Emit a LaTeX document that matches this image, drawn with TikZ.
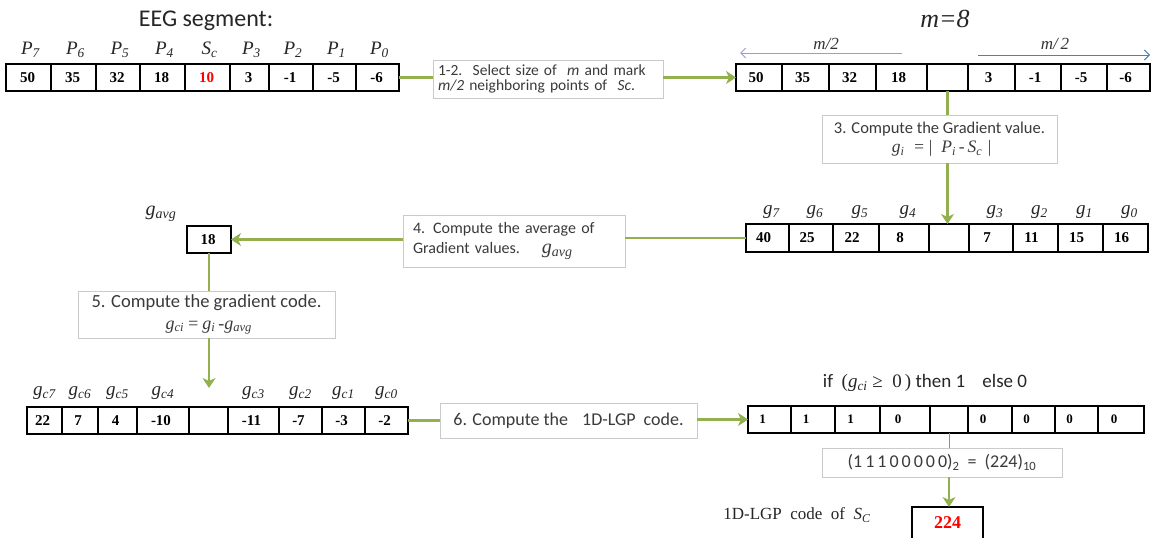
\documentclass[tikz,border=0pt]{standalone}
\usepackage{fontspec}
\setmainfont{Liberation Serif}
\newfontfamily\stepfont{Carlito}
\usetikzlibrary{arrows.meta,shadows}

\definecolor{arrowgreen}{HTML}{93B04F}
\definecolor{stepgray}{HTML}{CACACA}
\definecolor{steptext}{HTML}{3A3A3A}
\definecolor{halfleft}{HTML}{9C9CD0}
\definecolor{halfright}{HTML}{4F7FB5}

\newcommand\sub[1]{\textsubscript{#1}}
\newcommand\fsz[1]{\fontsize{#1}{#1}\selectfont}

\tikzset{
  cellbox/.style={draw=black, line width=1.3pt, inner sep=0pt, outer sep=0pt},
  numtext/.style={font=\fsz{15}\bfseries, inner sep=0pt},
  idxlabel/.style={font=\fsz{19}\itshape, inner sep=0pt, text=black!85},
  stepbox/.style={draw=stepgray, line width=0.8pt, fill=white, inner sep=0pt,
    outer sep=0pt, text=steptext, font=\stepfont\fsz{16},
    drop shadow={opacity=0.15, shadow xshift=1.2pt, shadow yshift=-1.2pt}},
  flowline/.style={draw=arrowgreen, line width=2.6pt},
  flowarrow/.style={flowline, -{Stealth[length=10pt,width=13pt,inset=3pt]}},
  halfarrow/.style={line width=0.9pt, -{Straight Barb[length=5pt,width=10pt]}},
}

% one row of value cells: name, top, height, text shift, list of index/left/right/value
\newcommand\cellrow[5]{%
  \foreach \ci/\xa/\xb/\val in {#5}{%
    \pgfmathsetmacro\cw{\xb-\xa}%
    \node[cellbox, minimum width=\cw pt, minimum height=#3pt, anchor=north west] (#1\ci) at (\xa,#2) {};%
    \node[numtext] (#1t\ci) at ([xshift=#4pt]#1\ci.center) {\val};%
  }%
}

\begin{document}
\begin{tikzpicture}[x=1pt,y=-1pt]
\useasboundingbox (0,0) rectangle (1152,538);
\fill[white] (0,0) rectangle (1152,538);

% headings
\node[font=\stepfont\fsz{24}, text=black!85] (eegtitle) at (206,21) {EEG segment:};
\node[font=\fsz{26}\itshape, text=black!85] (mtitle) at (945,19) {m=8};

% value rows
\cellrow{a}{64}{27}{-1}{1/6/51/50, 2/51/96/35, 3/96/140/32, 4/140/185/18, 5/185/230/\textcolor{red}{10}, 6/230/269/3, 7/269/313/-1, 8/313/356/-5, 9/356/399/-6}
\cellrow{b}{64}{27}{-3}{1/736/782/50, 2/782/829/35, 3/829/876/32, 4/876/927/18, 5/927/968/{}, 6/968/1015/3, 7/1015/1061/-1, 8/1061/1107/-5, 9/1107/1150/-6}
\cellrow{c}{224}{28}{-4}{1/746/789/40, 2/789/833/25, 3/833/879/22, 4/879/929/8, 5/929/969/{}, 6/969/1013/7, 7/1013/1058/11, 8/1058/1103/15, 9/1103/1148/16}
\cellrow{d}{407}{27}{-2}{1/27/62/22, 2/62/98/7, 3/98/137/4, 4/137/189/-10, 5/189/228/{}, 6/228/279/-11, 7/279/322/-7, 8/322/365/-3, 9/365/408/-2}
\begin{scope}[numtext/.append style={font=\fsz{13}\bfseries}]
\cellrow{e}{406}{27}{-7}{1/748/791/1, 2/791/835/1, 3/835/880/1, 4/880/930/0, 5/930/968/{}, 6/968/1012/0, 7/1012/1055/0, 8/1055/1098/0, 9/1098/1144/0}
\end{scope}

% index labels above the rows
\foreach \ci/\txt in {1/P\sub{7}, 2/P\sub{6}, 3/P\sub{5}, 4/P\sub{4}, 5/S\sub{c}, 6/P\sub{3}, 7/P\sub{2}, 8/P\sub{1}, 9/P\sub{0}}
  {\node[idxlabel] (aL\ci) at ([xshift=2pt,yshift=14pt]a\ci.north) {\txt};}
\foreach \ci/\txt in {1/g\sub{7}, 2/g\sub{6}, 3/g\sub{5}, 4/g\sub{4}, 6/g\sub{3}, 7/g\sub{2}, 8/g\sub{1}, 9/g\sub{0}}
  {\node[idxlabel] (cL\ci) at ([xshift=4pt,yshift=12pt]c\ci.north) {\txt};}
\foreach \ci/\txt in {1/g\sub{c7}, 2/g\sub{c6}, 3/g\sub{c5}, 4/g\sub{c4}, 6/g\sub{c3}, 7/g\sub{c2}, 8/g\sub{c1}, 9/g\sub{c0}}
  {\node[idxlabel] (dL\ci) at ([yshift=14pt]d\ci.north) {\txt};}

% half-window arrows
\node[font=\fsz{17}\itshape, text=black!80] (mhalfL) at (826,44) {m/2};
\node[font=\fsz{17}\itshape, text=black!80] (mhalfR) at (1055,44) {m/\,2};
\coordinate (hlstart) at (902,53);
\coordinate (hlend) at (740,53);
\coordinate (hrstart) at (978,55);
\coordinate (hrend) at (1150,55);
\draw[halfarrow, halfleft] (hlstart) -- (hlend);
\draw[halfarrow, halfright] (hrstart) -- (hrend);

% step boxes
\node[stepbox, minimum width=230pt, minimum height=38pt, text width=220pt, align=left,
      font=\stepfont\fontsize{15.5}{15}\selectfont] (s12) at (548,79)
  {1-2.\ \ Select size of \ \textit{m} and mark\\\textit{m/2} neighboring points of \ \textit{Sc}.};
\node[stepbox, minimum width=235pt, minimum height=48pt, align=center, font=\stepfont\fsz{16.5}] (s3) at (939.5,139)
  {3. Compute the Gradient value.\\[3pt]{\rmfamily\itshape\fsz{17.5} g\sub{i} \ =\,|\ \ P\sub{i}\,-\,S\sub{c} |}};
\node[stepbox, minimum width=222pt, minimum height=52pt, text width=202pt, align=left,
      font=\stepfont\fontsize{16}{20}\selectfont] (s4) at (514,241)
  {4. Compute the average of\\Gradient values.\hspace{14pt}{\rmfamily\itshape\fsz{20} g\sub{avg}}};
\node[stepbox, minimum width=257pt, minimum height=47pt, align=center, font=\stepfont\fsz{18.5}] (s5) at (206.5,314.5)
  {5. Compute the gradient code.\\[3pt]{\rmfamily\itshape\fsz{18} g\sub{ci}\,=\,g\sub{i}\,-g\sub{avg}}};
\node[stepbox, minimum width=257pt, minimum height=35pt, font=\stepfont\fsz{18}] (s6) at (568.5,420.5)
  {6. Compute the\hspace{14pt}1D-LGP\hspace{8pt}code.};
\node[stepbox, minimum width=240pt, minimum height=29pt, font=\stepfont\fsz{18}] (bin) at (942,462.5)
  {(1\,1\,1\,0\,0\,0\,0\,0)\sub{2}\ \ =\ \ (224)\sub{10}};

% rule for the code bits
\node[font=\stepfont\fsz{19}, text=black!85] (ifrule) at (925,383)
  {if\ \ {\rmfamily(\textit{g\sub{ci}} ≥\ \ 0\,)} then 1\ \ \ \ else 0};

% average value
\node[cellbox, minimum width=44pt, minimum height=27pt] (gavg) at (209,239.5) {};
\node[numtext] (gavgt) at (208,239.5) {18};
\node[idxlabel, font=\fsz{20}\itshape] (gavgL) at (161,214) {g\sub{avg}};

% final code
\node[cellbox, minimum width=71pt, minimum height=40pt, anchor=north] (res) at (947.5,507) {};
\node[numtext, font=\fsz{18}\bfseries, text=red] (rest) at (947.5,523) {224};
\node[font=\fsz{17}, text=black!85] (resL) at (797,515)
  {1D-LGP\ \ code\ \ of\ \ \textit{S}\sub{\textit{C}}};

% flow connectors
\draw[flowline] (a9.east) -- (a9.east -| s12.west);
\draw[flowarrow] (s12.east |- b1.west) -- (b1.west);
\draw[flowline] (b5.south) -- (b5.south |- s3.north);
\draw[flowarrow] (s3.south -| b5.south) -- (b5.south |- c5.north);
\draw[flowline] (c1.west) -- (c1.west -| s4.east);
\draw[flowarrow] (s4.west |- gavg.east) -- (gavg.east);
\draw[flowline] (gavg.south) -- (gavg.south |- s5.north);
\coordinate (dentry) at (209,388);
\draw[flowarrow] (gavg.south |- s5.south) -- (dentry);
\draw[flowline] (d9.east) -- (d9.east -| s6.west);
\draw[flowarrow] (s6.east |- e1.west) -- (e1.west);
\draw[draw=arrowgreen!55!gray, line width=1pt] (e5.south) -- (e5.south |- bin.north);
\draw[flowarrow] (bin.south -| e5.south) -- (e5.south |- res.north);
\end{tikzpicture}
\end{document}
